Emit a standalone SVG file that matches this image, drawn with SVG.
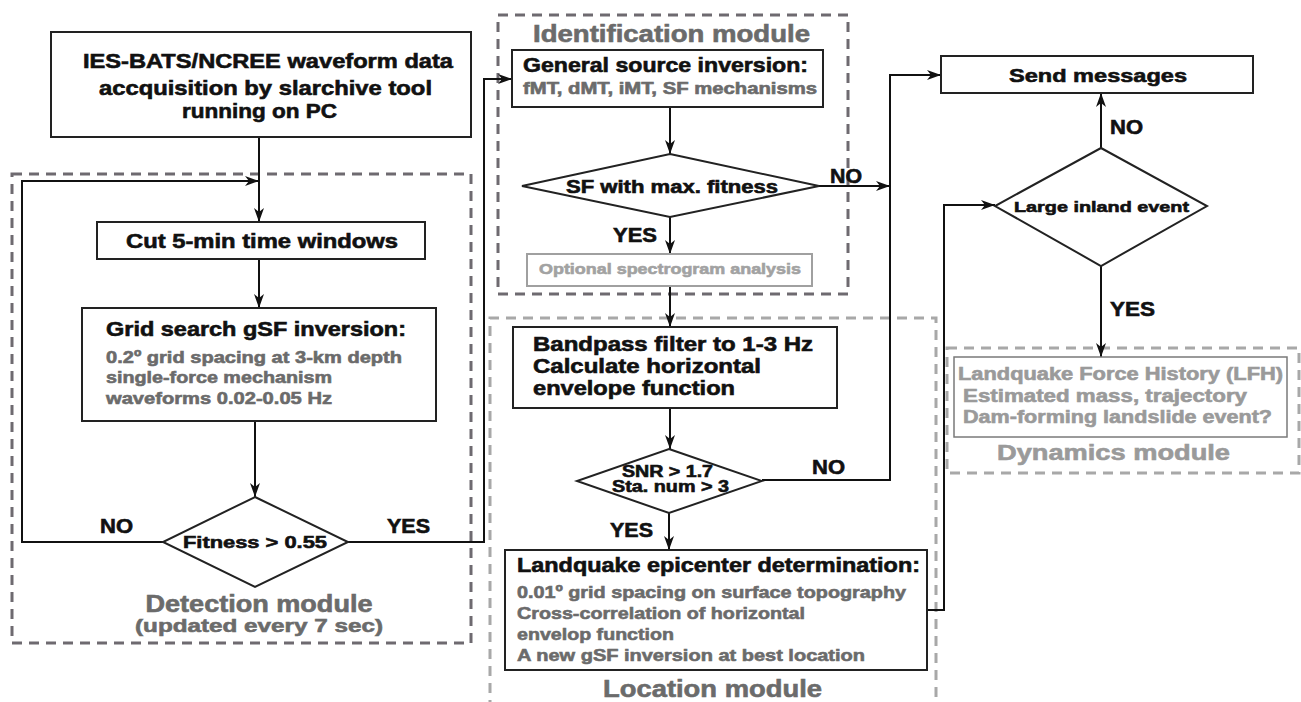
<svg xmlns="http://www.w3.org/2000/svg" width="1301" height="702" viewBox="0 0 1301 702">
<style>
text{font-family:"Liberation Sans",Arial,sans-serif;font-weight:bold;stroke-width:0.6;}
.blk{fill:#111;stroke:#111;}
.gry{fill:#6b6b6b;stroke:#6b6b6b;}
.lgt{fill:#a2a2a2;stroke:#a2a2a2;}
.dyn{fill:#9a9a9a;stroke:#9a9a9a;}
.box{fill:#fff;stroke:#222;stroke-width:2;}
.dd{fill:none;stroke:#6e6a70;stroke-width:3;stroke-dasharray:10 7;}
.dl{fill:none;stroke:#a8a8a8;stroke-width:3;stroke-dasharray:10 7;}
.con{fill:none;stroke:#111;stroke-width:2;}
.arr{marker-end:url(#ah);}
</style>
<defs>
<marker id="ah" viewBox="0 0 14 10" refX="14" refY="5" markerWidth="14" markerHeight="10" markerUnits="userSpaceOnUse" orient="auto">
<path d="M0,0 L14,5 L0,10 L4,5 Z" fill="#111"/>
</marker>
</defs>
<rect width="1301" height="702" fill="#fff"/>

<g id="detection-module">
<rect class="dd" x="12" y="174" width="459" height="469"/>
<text class="gry" x="259" y="612" font-size="23" text-anchor="middle" textLength="227" lengthAdjust="spacingAndGlyphs">Detection module</text>
<text class="gry" x="259" y="632" font-size="19" text-anchor="middle" textLength="248" lengthAdjust="spacingAndGlyphs">(updated every 7 sec)</text>
</g>
<g id="identification-module">
<rect class="dd" x="498" y="15" width="350" height="279"/>
<text class="gry" x="533" y="42" font-size="23" textLength="277" lengthAdjust="spacingAndGlyphs">Identification module</text>
</g>
<g id="location-module">
<path class="dl" d="M490,710 V318 H936 V710"/>
<text class="gry" x="603" y="697" font-size="24" textLength="219" lengthAdjust="spacingAndGlyphs">Location module</text>
</g>
<g id="dynamics-module">
<rect class="dl" x="947" y="348" width="352" height="125"/>
<text class="dyn" x="997" y="460" font-size="22" textLength="233" lengthAdjust="spacingAndGlyphs">Dynamics module</text>
</g>

<g id="connectors">
<path class="con arr" d="M259,137 V222"/>
<path class="con arr" d="M163,542 H22 V181 H259"/>
<path class="con arr" d="M259,259 V308"/>
<path class="con arr" d="M255,421 V497"/>
<path class="con arr" d="M348,542 H484 V79 H512"/>
<path class="con arr" d="M670,107 V154"/>
<path class="con arr" d="M819,186 H890"/>
<path class="con arr" d="M670,217 V254"/>
<path class="con arr" d="M670,286 V327"/>
<path class="con arr" d="M670,408 V449"/>
<path class="con arr" d="M762,480 H890 V75 H941"/>
<path class="con arr" d="M669,513 V550"/>
<path class="con arr" d="M927,610 H944 V205 H995"/>
<path class="con arr" d="M1101,148 V93"/>
<path class="con arr" d="M1101,266 V357"/>
<text class="blk" x="100" y="533" font-size="20" textLength="33" lengthAdjust="spacingAndGlyphs">NO</text>
<text class="blk" x="387" y="533" font-size="20" textLength="43" lengthAdjust="spacingAndGlyphs">YES</text>
<text class="blk" x="830" y="183" font-size="20" textLength="32" lengthAdjust="spacingAndGlyphs">NO</text>
<text class="blk" x="613" y="242" font-size="20" textLength="44" lengthAdjust="spacingAndGlyphs">YES</text>
<text class="blk" x="812" y="474" font-size="20" textLength="33" lengthAdjust="spacingAndGlyphs">NO</text>
<text class="blk" x="610" y="537" font-size="20" textLength="43" lengthAdjust="spacingAndGlyphs">YES</text>
<text class="blk" x="1110" y="134" font-size="20" textLength="33" lengthAdjust="spacingAndGlyphs">NO</text>
<text class="blk" x="1110" y="316" font-size="20" textLength="45" lengthAdjust="spacingAndGlyphs">YES</text>
</g>

<g id="data-acquisition">
<rect class="box" x="51" y="32" width="420" height="105"/>
<text class="blk" x="83" y="68" font-size="20" textLength="370" lengthAdjust="spacingAndGlyphs">IES-BATS/NCREE waveform data</text>
<text class="blk" x="99" y="95" font-size="20" textLength="333" lengthAdjust="spacingAndGlyphs">accquisition by slarchive tool</text>
<text class="blk" x="182" y="118" font-size="20" textLength="155" lengthAdjust="spacingAndGlyphs">running on PC</text>
</g>
<g id="cut-windows">
<rect class="box" x="97" y="222" width="328" height="37"/>
<text class="blk" x="126" y="248" font-size="20" textLength="272" lengthAdjust="spacingAndGlyphs">Cut 5-min time windows</text>
</g>
<g id="grid-search">
<rect class="box" x="82" y="308" width="354" height="113"/>
<text class="blk" x="106" y="336" font-size="20" textLength="300" lengthAdjust="spacingAndGlyphs">Grid search gSF inversion:</text>
<text class="gry" x="106" y="363" font-size="17" textLength="296" lengthAdjust="spacingAndGlyphs">0.2º grid spacing at 3-km depth</text>
<text class="gry" x="106" y="383" font-size="17" textLength="226" lengthAdjust="spacingAndGlyphs">single-force mechanism</text>
<text class="gry" x="106" y="404" font-size="17" textLength="226" lengthAdjust="spacingAndGlyphs">waveforms 0.02-0.05 Hz</text>
</g>
<g id="fitness">
<polygon class="box" points="255,497 348,542 255,587 163,542"/>
<text class="blk" x="183" y="548" font-size="17" textLength="144" lengthAdjust="spacingAndGlyphs">Fitness &gt; 0.55</text>
</g>
<g id="general-source">
<rect class="box" x="512" y="50" width="311" height="57"/>
<text class="blk" x="523" y="72" font-size="20" textLength="285" lengthAdjust="spacingAndGlyphs">General source inversion:</text>
<text class="gry" x="523" y="94" font-size="16" textLength="294" lengthAdjust="spacingAndGlyphs">fMT, dMT, iMT, SF mechanisms</text>
</g>
<g id="sf-fitness">
<polygon class="box" points="670,154 819,186 670,217 522,186"/>
<text class="blk" x="566" y="193" font-size="18" textLength="212" lengthAdjust="spacingAndGlyphs">SF with max. fitness</text>
</g>
<g id="optional-spectrogram">
<rect x="527" y="254" width="285" height="32" fill="#fff" stroke="#a0a0a0" stroke-width="2"/>
<text class="lgt" x="539" y="274" font-size="15" textLength="262" lengthAdjust="spacingAndGlyphs">Optional spectrogram analysis</text>
</g>
<g id="bandpass">
<rect class="box" x="513" y="327" width="324" height="81"/>
<text class="blk" x="533" y="351" font-size="20" textLength="280" lengthAdjust="spacingAndGlyphs">Bandpass filter to 1-3 Hz</text>
<text class="blk" x="533" y="373" font-size="20" textLength="228" lengthAdjust="spacingAndGlyphs">Calculate horizontal</text>
<text class="blk" x="533" y="395" font-size="20" textLength="202" lengthAdjust="spacingAndGlyphs">envelope function</text>
</g>
<g id="snr">
<polygon class="box" points="669,449 762,481 669,513 577,481"/>
<text class="blk" x="622" y="477" font-size="16" textLength="91" lengthAdjust="spacingAndGlyphs">SNR &gt; 1.7</text>
<text class="blk" x="612" y="492" font-size="16" textLength="117" lengthAdjust="spacingAndGlyphs">Sta. num &gt; 3</text>
</g>
<g id="landquake-epicenter">
<rect class="box" x="505" y="550" width="422" height="120"/>
<text class="blk" x="517" y="572" font-size="20" textLength="403" lengthAdjust="spacingAndGlyphs">Landquake epicenter determination:</text>
<text class="gry" x="517" y="598" font-size="17" textLength="389" lengthAdjust="spacingAndGlyphs">0.01º grid spacing on surface topography</text>
<text class="gry" x="517" y="619" font-size="17" textLength="288" lengthAdjust="spacingAndGlyphs">Cross-correlation of horizontal</text>
<text class="gry" x="517" y="640" font-size="17" textLength="157" lengthAdjust="spacingAndGlyphs">envelop function</text>
<text class="gry" x="517" y="661" font-size="17" textLength="348" lengthAdjust="spacingAndGlyphs">A new gSF inversion at best location</text>
</g>
<g id="send-messages">
<rect class="box" x="941" y="56" width="312" height="37"/>
<text class="blk" x="1009" y="82" font-size="19" textLength="178" lengthAdjust="spacingAndGlyphs">Send messages</text>
</g>
<g id="large-inland">
<polygon class="box" points="1101,148 1207,206 1101,266 995,206"/>
<text class="blk" x="1014" y="212" font-size="15" textLength="175" lengthAdjust="spacingAndGlyphs">Large inland event</text>
</g>
<g id="landquake-force-history">
<rect x="954" y="357" width="333" height="80" fill="#fff" stroke="#7a7a7a" stroke-width="1.5"/>
<text class="dyn" x="958" y="380" font-size="18" textLength="325" lengthAdjust="spacingAndGlyphs">Landquake Force History (LFH)</text>
<text class="dyn" x="963" y="402" font-size="18" textLength="284" lengthAdjust="spacingAndGlyphs">Estimated mass, trajectory</text>
<text class="dyn" x="963" y="423" font-size="18" textLength="309" lengthAdjust="spacingAndGlyphs">Dam-forming landslide event?</text>
</g>
</svg>
